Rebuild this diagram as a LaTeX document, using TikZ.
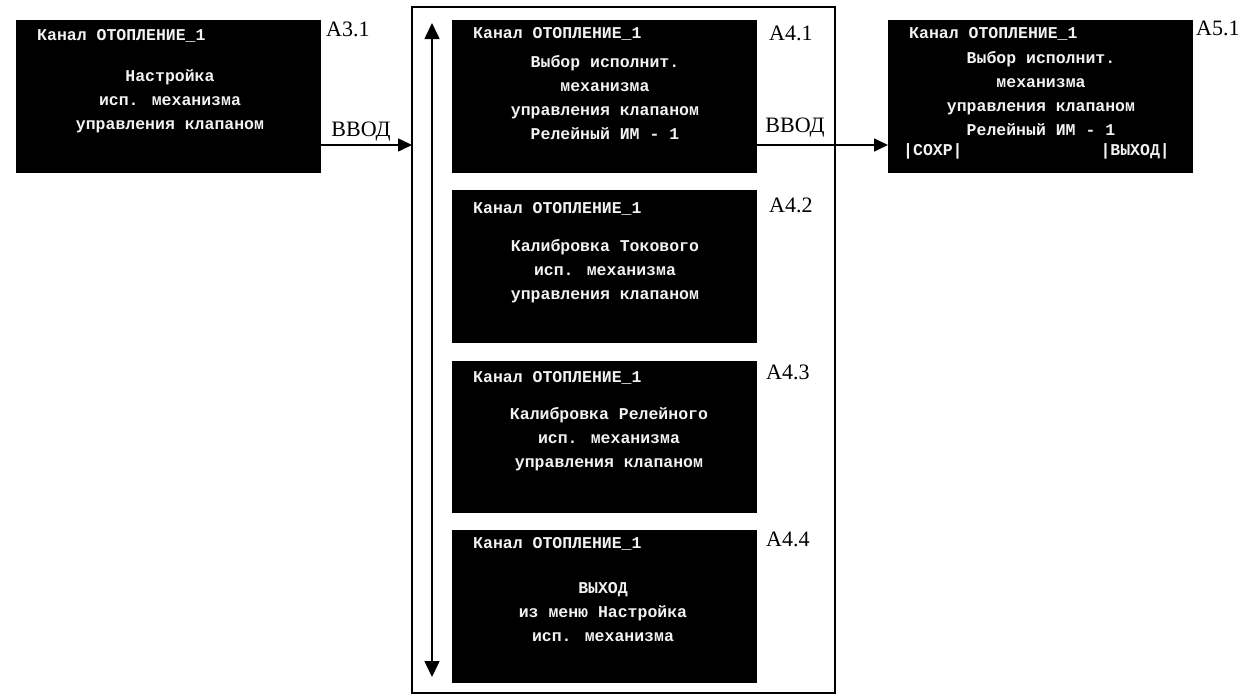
\documentclass[tikz,border=0pt]{standalone}
\usepackage{fontspec}
\setmainfont{Liberation Serif}
\newfontfamily\scrfont{Liberation Mono}
\usetikzlibrary{arrows.meta}
\begin{document}
\begin{tikzpicture}[x=1pt,y=-1pt,
  screen/.style={fill=black,draw=none,inner sep=0pt,outer sep=0pt,minimum width=305pt,minimum height=153pt},
  scrtxt/.style={text=white!90!gray,inner sep=0pt,font=\scrfont\bfseries\fontsize{16.5}{24}\selectfont,align=center},
  lbl/.style={inner sep=0pt,font=\fontsize{22}{26}\selectfont},
  harr/.style={line width=1.6pt,-{Triangle[length=14pt,width=13pt]}},
  varr/.style={line width=1.6pt,{Triangle[length=16pt,width=15pt]}-{Triangle[length=16pt,width=15pt]}}
]
\useasboundingbox (0,0) rectangle (1242,696);
% frame
\node[draw,line width=1.3pt,inner sep=0pt,outer sep=0pt,minimum width=423pt,minimum height=686pt] (frame) at (623.5,350) {};
% screens
\node[screen] (a31) at (168.5,96.5) {};
\node[screen] (a41) at (604.5,96.5) {};
\node[screen] (a42) at (604.5,266.5) {};
\node[screen,minimum height=152pt] (a43) at (604.5,437) {};
\node[screen] (a44) at (604.5,606.5) {};
\node[screen] (a51) at (1040.5,96.5) {};
% titles
\node[scrtxt,anchor=base west] (t31) at (37,40) {Канал ОТОПЛЕНИЕ\_1};
\node[scrtxt,anchor=base west] (t41) at (473,38) {Канал ОТОПЛЕНИЕ\_1};
\node[scrtxt,anchor=base west] (t42) at (473,213) {Канал ОТОПЛЕНИЕ\_1};
\node[scrtxt,anchor=base west] (t43) at (473,382) {Канал ОТОПЛЕНИЕ\_1};
\node[scrtxt,anchor=base west] (t44) at (473,548) {Канал ОТОПЛЕНИЕ\_1};
\node[scrtxt,anchor=base west] (t51) at (909,38) {Канал ОТОПЛЕНИЕ\_1};
% bodies
\node[scrtxt] (b31) at (170,101) {Настройка\\исп. механизма\\управления клапаном};
\node[scrtxt] (b41) at (605,98) {Выбор исполнит.\\механизма\\управления клапаном\\Релейный ИМ - 1};
\node[scrtxt] (b42) at (605,271) {Калибровка Токового\\исп. механизма\\управления клапаном};
\node[scrtxt] (b43) at (609,439) {Калибровка Релейного\\исп. механизма\\управления клапаном};
\node[scrtxt] (b44) at (603,612) {ВЫХОД\\из меню Настройка\\исп. механизма};
\node[scrtxt] (b51) at (1041,94) {Выбор исполнит.\\механизма\\управления клапаном\\Релейный ИМ - 1};
\node[scrtxt,anchor=base west] (s51) at (903,155) {|СОХР|};
\node[scrtxt,anchor=base east] (x51) at (1170,155) {|ВЫХОД|};
% labels
\node[lbl,anchor=base west] (l31) at (326,36) {A3.1};
\node[lbl,anchor=base west] (l41) at (769,40) {A4.1};
\node[lbl,anchor=base west] (l42) at (769,212) {A4.2};
\node[lbl,anchor=base west] (l43) at (766,379) {A4.3};
\node[lbl,anchor=base west] (l44) at (766,546) {A4.4};
\node[lbl,anchor=base west] (l51) at (1196,35) {A5.1};
\node[lbl,anchor=base] (v1) at (361,136) {ВВОД};
\node[lbl,anchor=base] (v2) at (795,132) {ВВОД};
% connectors
\coordinate (ry) at (0,145);
\draw[harr] (a31.east |- ry) -- (frame.west |- ry);
\draw[harr] (a41.east |- ry) -- (a51.west |- ry);
\coordinate (vt) at (432,23);
\coordinate (vb) at (432,677);
\draw[varr] (vt) -- (vb);
\end{tikzpicture}
\end{document}
